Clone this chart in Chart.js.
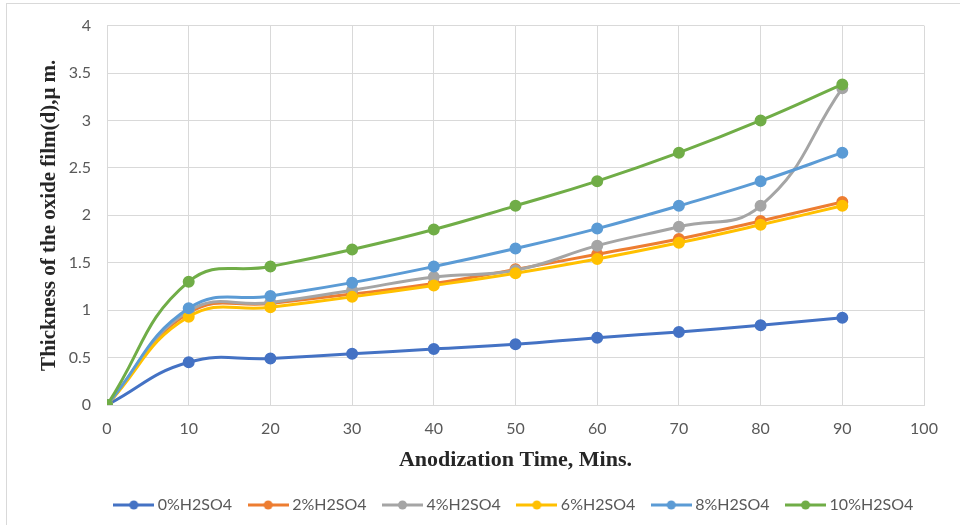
<!DOCTYPE html>
<html>
<head>
<meta charset="utf-8">
<script src="https://cdn.jsdelivr.net/npm/chart.js@4.4.0/dist/chart.umd.min.js"></script>
<style>
  html, body { margin: 0; padding: 0; background: #fff; overflow: hidden; }
  #wrap { position: relative; width: 960px; height: 525px; }
  #frame { position: absolute; left: 6px; top: 3px; width: 1000px; height: 600px; border: 1px solid #d9d9d9; }
  #chart { position: absolute; left: 0; top: 0; }
</style>
</head>
<body>
<div id="wrap">
  <div id="frame"></div>
  <canvas id="chart" width="960" height="525"></canvas>
</div>
<script>
// anodization time (mins)
const times = [0, 10, 20, 30, 40, 50, 60, 70, 80, 90];
// film thickness (um) per H2SO4 concentration
const h2so4_0 = [0, 0.45, 0.49, 0.54, 0.59, 0.64, 0.71, 0.77, 0.84, 0.92];
const h2so4_2 = [0, 0.97, 1.07, 1.17, 1.28, 1.43, 1.59, 1.75, 1.94, 2.14];
const h2so4_4 = [0, 0.99, 1.08, 1.21, 1.35, 1.42, 1.68, 1.88, 2.10, 3.34];
const h2so4_6 = [0, 0.93, 1.03, 1.14, 1.26, 1.39, 1.54, 1.71, 1.90, 2.10];
const h2so4_8 = [0, 1.02, 1.15, 1.29, 1.46, 1.65, 1.86, 2.10, 2.36, 2.66];
const h2so4_10 = [0, 1.30, 1.46, 1.64, 1.85, 2.10, 2.36, 2.66, 3.00, 3.38];

const seriesNames = ['0%H2SO4', '2%H2SO4', '4%H2SO4', '6%H2SO4', '8%H2SO4', '10%H2SO4'];
const seriesVals = [h2so4_0, h2so4_2, h2so4_4, h2so4_6, h2so4_8, h2so4_10];
const colors = ['#4472C4', '#ED7D31', '#A5A5A5', '#FFC000', '#5B9BD5', '#70AD47'];

const tickFont = { family: 'Lato, "Open Sans", sans-serif', size: 16 };
const serif = '"Liberation Serif", "Times New Roman", serif';

// legend marker: line with a dot in the middle, like the excel legend
function legendIcon(color) {
    const c = document.createElement('canvas');
    c.width = 41; c.height = 10;
    const g = c.getContext('2d');
    g.strokeStyle = color;
    g.lineWidth = 3;
    g.beginPath();
    g.moveTo(0, 5); g.lineTo(41, 5);
    g.stroke();
    g.fillStyle = color;
    g.beginPath();
    g.arc(20.5, 5, 4.5, 0, Math.PI * 2);
    g.fill();
    return c;
}

// keep the legend row centred under the plot area rather than the canvas
const centerLegend = {
    id: 'centerLegend',
    beforeDraw: function (ch) {
        const lg = ch.legend;
        if (!lg) return;
        const shift = (ch.chartArea.left + ch.chartArea.right) / 2 - (lg.left + lg.right) / 2;
        lg.left += shift;
        lg.right += shift;
    }
};

const datasets = seriesNames.map((name, i) => ({
    label: name,
    data: times.map((t, j) => ({ x: t, y: seriesVals[i][j] })),
    borderColor: colors[i],
    backgroundColor: colors[i],
    borderWidth: 3,
    pointRadius: 4.5,
    pointHoverRadius: 4.5,
    tension: 0.45,
    order: seriesNames.length - i, // last series drawn on top
    icon: legendIcon(colors[i])
}));

const ctx = document.getElementById('chart').getContext('2d');
const chart = new Chart(ctx, {
    type: 'line',
    data: { datasets: datasets },
    plugins: [centerLegend],
    options: {
        responsive: false,
        animation: false,
        layout: { padding: { left: 0, top: 25, right: 36, bottom: 2 } },
        plugins: {
            tooltip: { enabled: false },
            legend: {
                position: 'bottom',
                labels: {
                    usePointStyle: true,
                    pointStyleWidth: 32,
                    color: '#595959',
                    font: tickFont,
                    padding: 20,
                    generateLabels: function (ch) {
                        return ch.data.datasets.map((ds, i) => ({
                            text: ds.label,
                            fillStyle: ds.borderColor,
                            strokeStyle: ds.borderColor,
                            fontColor: '#595959',
                            pointStyle: ds.icon,
                            datasetIndex: i,
                            hidden: false
                        }));
                    }
                }
            }
        },
        scales: {
            x: {
                type: 'linear',
                min: 0, max: 100,
                ticks: { stepSize: 10, color: '#595959', font: tickFont, padding: 14 },
                grid: { color: '#d9d9d9', lineWidth: 1, drawTicks: false },
                border: { color: '#d9d9d9' },
                title: {
                    display: true,
                    text: 'Anodization Time, Mins.',
                    color: '#262626',
                    font: { family: serif, size: 22, weight: 'bold' },
                    padding: { top: 3, bottom: 3 }
                },
                afterFit: function (scale) { scale.height = 72; }
            },
            y: {
                min: 0, max: 4,
                ticks: {
                    stepSize: 0.5, color: '#595959', font: tickFont, padding: 16,
                    callback: function (v) { return String(v); }
                },
                grid: { color: '#d9d9d9', lineWidth: 1, drawTicks: false },
                border: { display: false },
                title: {
                    display: true,
                    text: 'Thickness of the oxide film(d),\u03bc m.',
                    color: '#262626',
                    font: { family: serif, size: 21, weight: 'bold' },
                    padding: { top: 37, bottom: 0 }
                },
                afterFit: function (scale) { scale.width = 107; }
            }
        }
    }
});
</script>
</body>
</html>
